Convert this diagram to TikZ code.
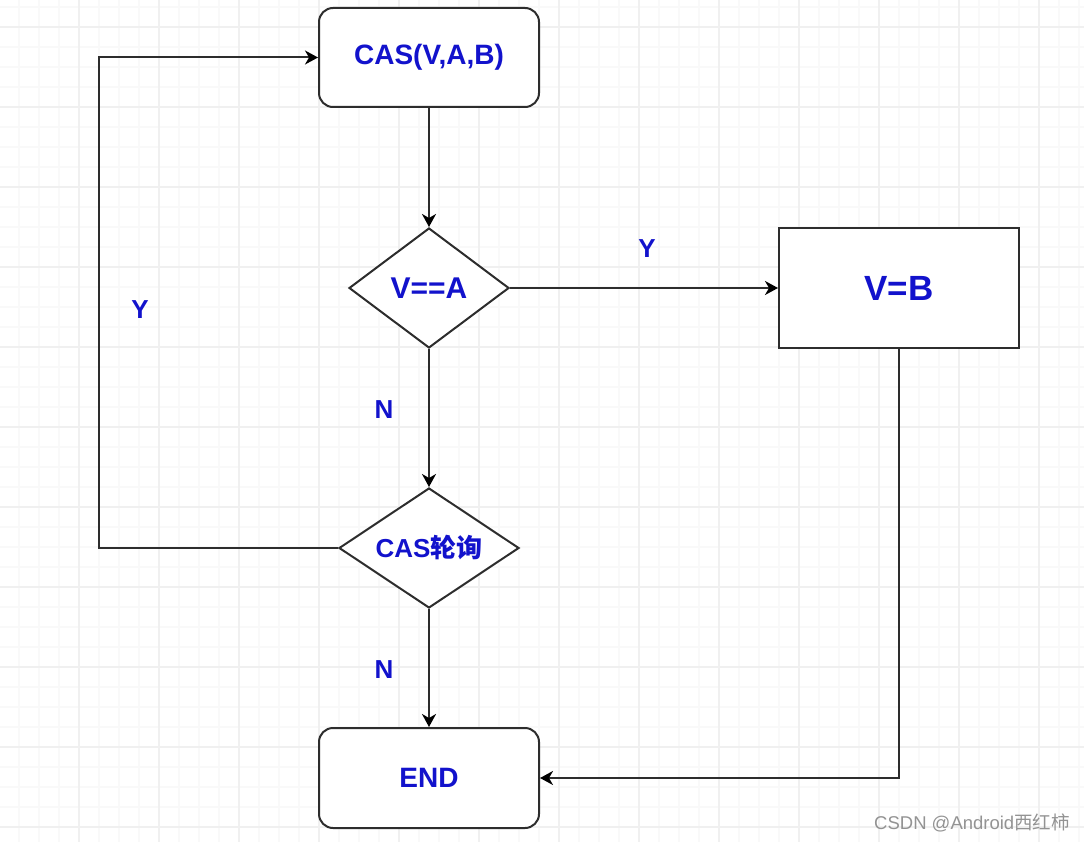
\documentclass[tikz,border=0pt]{standalone}
\usepackage{fontspec}
\setmainfont{Liberation Sans}
\newfontfamily\cjk{Noto Sans CJK SC}
\usetikzlibrary{arrows.meta,shapes.geometric}
\definecolor{txtblue}{RGB}{18,18,204}
\definecolor{edge}{RGB}{45,45,45}
\definecolor{gridminor}{RGB}{249,249,249}
\definecolor{gridmajor}{RGB}{240,240,240}
\tikzset{
  box/.style={draw=edge,line width=2pt,fill=white,minimum width=220pt,minimum height=99pt,inner sep=0pt,text=txtblue,font=\bfseries},
  rbox/.style={box,rounded corners=14pt},
  dia/.style={draw=edge,line width=2pt,fill=white,diamond,inner sep=0pt,text=txtblue,font=\bfseries},
  conn/.style={draw=edge,line width=2pt,-{Stealth[length=13pt,width=14pt,inset=4pt,color=black]}},
  lbl/.style={text=txtblue,font=\bfseries\fontsize{26}{28}\selectfont,inner sep=0pt}
}
\begin{document}
\begin{tikzpicture}[x=1pt,y=-1pt]
\useasboundingbox (0,0) rectangle (1084,842);
\fill[white] (0,0) rectangle (1084,842);
% grid
\foreach \x in {-1,19,...,1084} \draw[gridminor,line width=1.5pt] (\x,0) -- (\x,842);
\foreach \y in {7,27,...,842} \draw[gridminor,line width=1.5pt] (0,\y) -- (1084,\y);
\foreach \x in {79,159,...,1084} \draw[gridmajor,line width=1.5pt] (\x,0) -- (\x,842);
\foreach \y in {27,107,...,842} \draw[gridmajor,line width=1.5pt] (0,\y) -- (1084,\y);
% nodes
\node[rbox,font=\bfseries\fontsize{28}{30}\selectfont] (b1) at (429,57.5) {CAS(V,A,B)};
\node[dia,aspect=1.333,minimum width=160pt,minimum height=120pt,font=\bfseries\fontsize{30}{32}\selectfont] (d1) at (429,288) {V==A};
\node[box,minimum width=240pt,minimum height=120pt,font=\bfseries\fontsize{35}{37}\selectfont] (vb) at (899,288) {V=B};
\node[dia,aspect=1.5,minimum width=180pt,minimum height=120pt,font=\bfseries\fontsize{26}{28}\selectfont] (d2) at (429,548) {CAS{\cjk\bfseries 轮询}};
\node[rbox,minimum height=100pt,font=\bfseries\fontsize{28}{30}\selectfont] (endn) at (429,778) {END};
% connectors
\draw[conn] (b1) -- (d1);
\draw[conn] (d1) -- (vb);
\draw[conn] (d1) -- (d2);
\draw[conn] (d2) -- (endn);
\coordinate (c1) at (99,548);
\draw[conn] (d2.west) -- (c1) |- (b1.west);
\draw[conn] (vb.south) |- (endn.east);
% labels
\node[lbl] (ly1) at (647,249) {Y};
\node[lbl] (ly2) at (140,310) {Y};
\node[lbl] (ln1) at (384,410) {N};
\node[lbl] (ln2) at (384,670) {N};
\node[text=gray!85,font=\fontsize{18.5}{20}\selectfont,anchor=east,inner sep=0pt] (wm) at (1070,823) {CSDN @Android{\cjk 西红柿}};
\end{tikzpicture}
\end{document}
